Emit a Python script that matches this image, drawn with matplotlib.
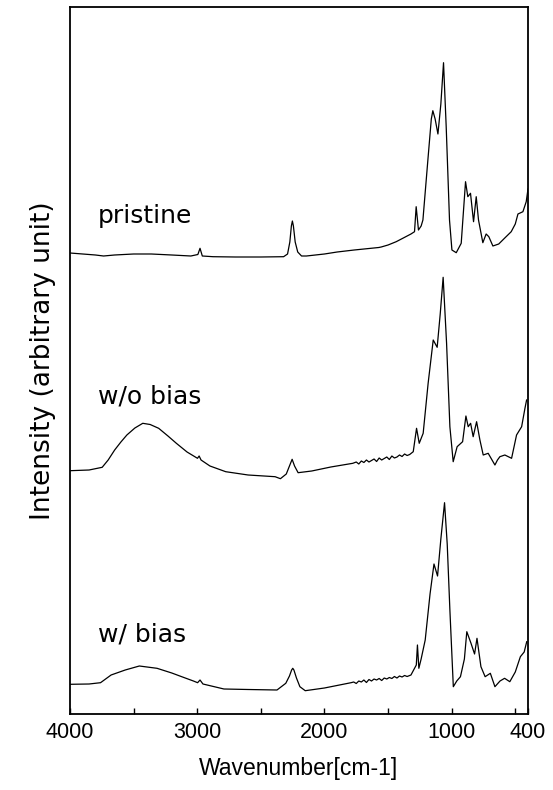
import numpy as np
import matplotlib
matplotlib.use("Agg")
import matplotlib.pyplot as plt

plt.rcParams['font.family'] = ['Liberation Sans', 'DejaVu Sans']

# pristine
wn_p = [4000, 3900, 3800, 3736, 3650, 3500, 3361, 3200, 3050, 2995, 2978, 2960, 2876, 2700, 2500,
        2321, 2290, 2272, 2260, 2252, 2244, 2230, 2210, 2180, 2142, 2000, 1900, 1766, 1650, 1573,
        1554, 1500, 1436, 1380, 1320, 1292, 1279, 1261, 1240, 1226, 1187, 1160, 1148, 1130, 1108,
        1085, 1064, 1043, 1017, 998, 964, 925, 891, 873, 852, 828, 807, 789, 755, 729, 708, 676,
        630, 585, 532, 500, 479, 440, 414, 400]
int_p = [461, 460, 459, 458, 459, 460, 460, 459, 458, 459.5, 465.7, 458, 457.3, 457, 457,
         457.3, 460, 472, 488, 493, 488, 472, 462, 458, 458, 460, 462, 464, 465.5, 466.5,
         467, 469, 472.3, 476, 480, 482.3, 507.3, 484, 488, 494, 554, 595, 603.3, 595, 580,
         610, 651.3, 587.3, 494, 464, 461.3, 470.7, 532.3, 517.3, 520.7, 492.3, 517.3, 494, 471.3, 480, 477.3, 468,
         470, 475.7, 482.3, 490, 500, 502.3, 512.3, 525]

# w/o bias
wn_o = [4000, 3850, 3747, 3700, 3649, 3600, 3553, 3490, 3428, 3370, 3303, 3230, 3164, 3080, 2998,
        2985, 2970, 2900, 2776, 2600, 2388, 2346, 2300, 2275, 2254, 2235, 2207, 2100, 1950, 1777,
        1750, 1730, 1710, 1690, 1670, 1650, 1630, 1610, 1590, 1570, 1550, 1530, 1510, 1490, 1470,
        1450, 1430, 1410, 1390, 1370, 1350, 1330,
        1302, 1276, 1255, 1224, 1185, 1145, 1114, 1090, 1067, 1040, 1014, 988, 957, 914, 888, 870,
        851, 831, 804, 778, 752, 713, 660, 640, 621, 582, 529, 490, 450, 424, 411]
int_o = [243.3, 244, 246.7, 254, 264, 272, 279, 286, 290.7, 289.5, 285.7, 278, 270.7, 262, 255.7,
         258, 254, 248, 242.3, 239, 237.3, 235.3, 240, 248, 254.7, 248, 241.3, 243, 247, 250.7,
         252, 250, 253, 251.5, 254, 252, 253.5, 255, 252.5, 256, 254, 255.5, 257, 254.5, 258,
         256, 257, 259, 257.5, 260, 258.5, 259.5,
         262.3, 285.7, 270.7, 280.7, 330.7, 374, 366.7, 400, 436.7, 370.7, 287.3, 252.3, 267.3, 272.3, 298, 287.3,
         290.7, 277.3, 292.3, 274, 259, 260.7, 249, 254, 257.3, 259, 255.7, 279, 287.3, 305.7, 314]

# w/ bias
wn_b = [4000, 3850, 3760, 3677, 3566, 3455, 3316, 3200, 3122, 3030, 2997, 2978, 2955, 2790, 2600,
        2373, 2304, 2275, 2258, 2249, 2240, 2220, 2193, 2151, 2000, 1791,
        1770, 1750, 1730, 1710, 1690, 1670, 1650, 1630, 1610, 1590, 1570, 1550, 1530, 1510, 1490,
        1470, 1450, 1430, 1410, 1390, 1370, 1350,
        1320, 1278, 1269, 1258, 1240, 1208, 1170, 1139, 1111, 1085, 1056, 1035, 1014, 987, 960, 931,
        900, 881, 848, 820, 801, 770, 737, 696, 660, 620, 584, 543, 500, 460, 430, 410]
int_b = [29.7, 30, 31.3, 39, 44, 48, 45.7, 41, 37.3, 33, 31.3, 34, 30, 25, 24.5,
         24, 30.7, 38, 44, 45.7, 44, 36, 27.3, 23.3, 26, 31.3,
         32, 30.5, 33, 32, 34, 31.5, 34.5, 33, 35, 34, 35.5, 33.5, 36, 35, 36.5,
         35.5, 37.5, 36, 38, 37, 38.5, 37.5,
         39, 49, 69, 45.7, 55, 74, 120, 150, 138, 175, 211.3, 170, 104, 27.3, 33, 37.3,
         55, 82.3, 70.7, 60, 75.7, 47.3, 37.3, 40.7, 27.3, 33, 35.7, 32.3, 42, 57.3, 62, 72.3]

labels = ['pristine', 'w/o bias', 'w/ bias']
label_y = [491, 310, 72]

fig = plt.figure(figsize=(5.53, 7.90), dpi=100)
ax = fig.add_axes([70/553, 76/790, 458/553, 707/790])

for wn, inten in [(wn_p, int_p), (wn_o, int_o), (wn_b, int_b)]:
    ax.plot(wn, inten, color='black', lw=0.9)

for lab, ly in zip(labels, label_y):
    ax.text(3780, ly, lab, fontsize=18, va='baseline', ha='left', family='DejaVu Sans')

ax.set_xlim(4000, 400)
ax.set_ylim(0, 707)
ax.set_xticks([4000, 3500, 3000, 2500, 2000, 1500, 1000, 500, 400])
ax.set_xticklabels(['4000', '', '3000', '', '2000', '', '1000', '', '400'])
ax.set_yticks([])
ax.tick_params(axis='x', direction='in', length=4, width=1, labelsize=15.5, pad=6)
for s in ax.spines.values():
    s.set_linewidth(1.3)

ax.set_xlabel('Wavenumber[cm-1]', fontsize=16.5, labelpad=10)
ax.set_ylabel('Intensity (arbitrary unit)', fontsize=19, labelpad=10, family='DejaVu Sans')

fig.savefig('out.png', dpi=100)
